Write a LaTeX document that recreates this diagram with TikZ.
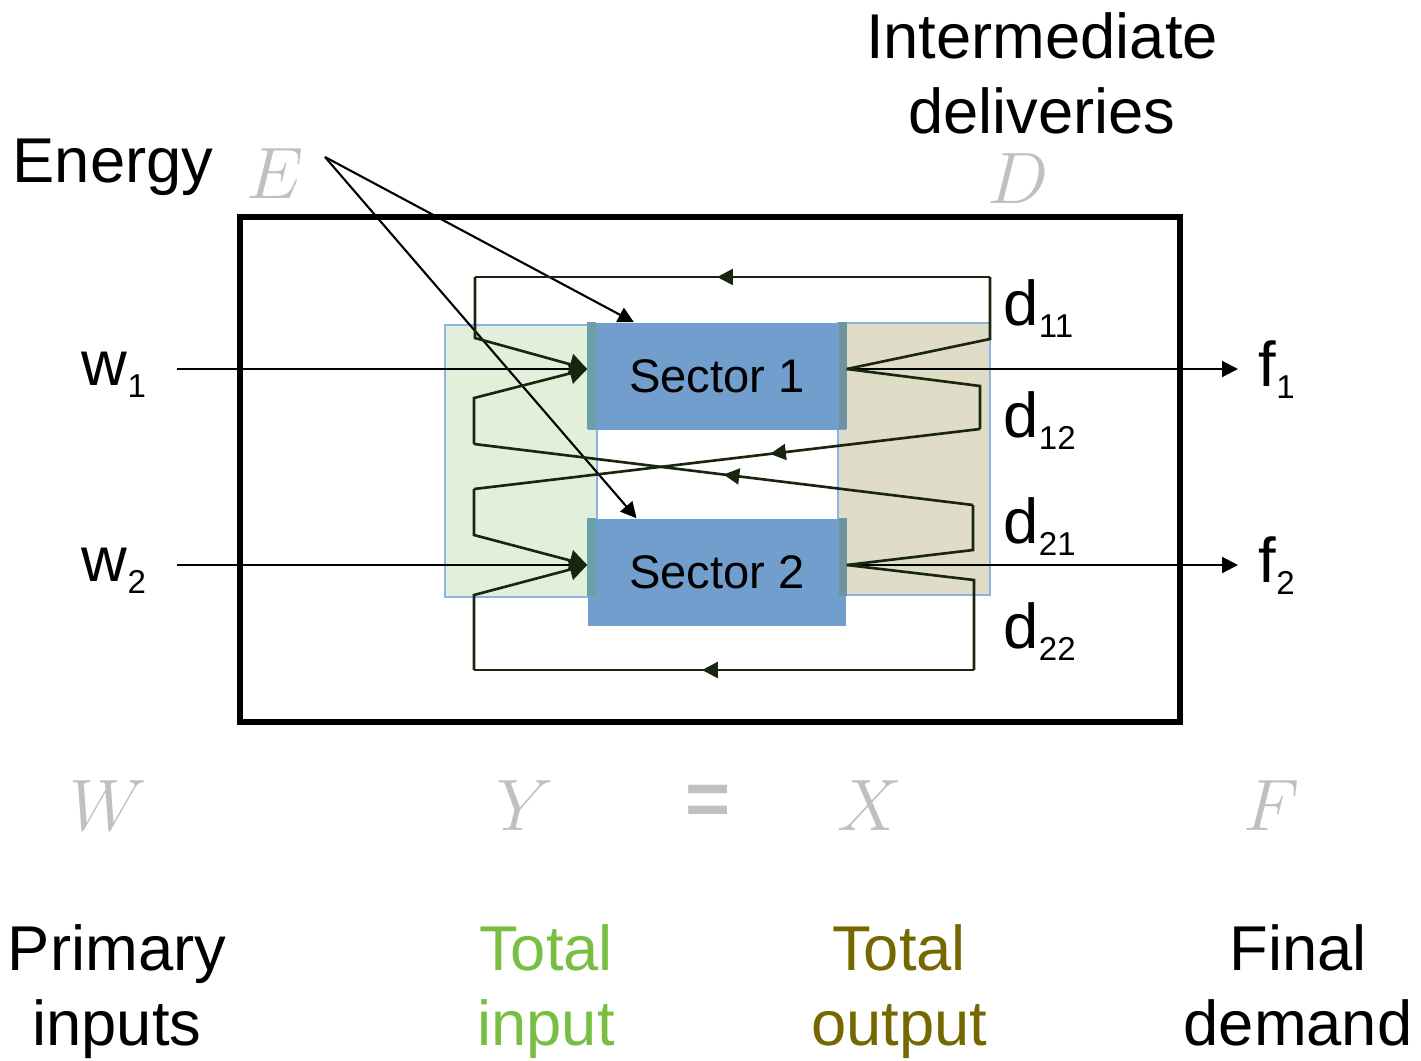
\documentclass[tikz,border=0pt]{standalone}
\usepackage{fontspec}
\setmainfont{Liberation Sans}
\usetikzlibrary{arrows.meta,decorations.markings,calc}

\definecolor{secblue}{RGB}{114,158,206}
\definecolor{ingreen}{RGB}{226,239,218}
\definecolor{outtan}{RGB}{223,221,200}
\definecolor{boxline}{RGB}{141,179,226}
\definecolor{lettergray}{RGB}{192,192,192}
\definecolor{totalin}{RGB}{119,190,67}
\definecolor{totalout}{RGB}{117,104,0}
\definecolor{loopcol}{RGB}{25,38,15}
\definecolor{inmix}{RGB}{106,160,168}
\definecolor{outmix}{RGB}{110,146,160}

\newcommand{\bigfont}{\fontsize{18}{21.3}\selectfont}
\newcommand{\lowidx}[1]{\raisebox{-0.2em}{\fontsize{9.4}{11}\selectfont #1}}

\tikzset{
  lbl/.style={font=\bigfont, inner sep=0pt},
  letter/.style={text=lettergray, font=\fontsize{21}{24}\selectfont, inner sep=0pt},
  sector/.style={fill=secblue, minimum width=2.58cm, minimum height=1.07cm, inner sep=0pt, font=\fontsize{13.4}{15}\selectfont},
  flow/.style={line width=0.6pt, -{Triangle[length=4.5pt,width=4.5pt]}},
  feed/.style={draw=loopcol, line width=0.75pt},
  feedin/.style={feed, -{Triangle[length=5pt,width=6pt]}},
  midarrow/.style={decoration={markings, mark=at position #1 with {\arrow{Triangle[length=4.5pt,width=4.5pt]}}}, postaction={decorate}},
}

\begin{document}
\begin{tikzpicture}[x=0.01cm, y=-0.01cm]
    \useasboundingbox (0,0) rectangle (1421,1060);

    % Input and output bands
    \filldraw[fill=ingreen, draw=boxline, line width=0.5pt] (445,325) rectangle (597,597);
    \filldraw[fill=outtan, draw=boxline, line width=0.5pt] (838,323) rectangle (990,595);

    % Sectors
    \node[sector] (sec1) at (717,376.5) {Sector 1};
    \node[sector] (sec2) at (717,572.5) {Sector 2};
    \fill[inmix] (sec1.north west) rectangle ++(9,107);
    \fill[inmix] (sec2.north west) rectangle ++(9,78);
    \fill[outmix] (sec1.north east) rectangle ++(-8,107);
    \fill[outmix] (sec2.north east) rectangle ++(-8,78);

    % Economy
    \draw[line width=1.7pt] (240,217) rectangle (1180,722);

    % Labels
    \node[lbl, anchor=base] (energy) at (113,182) {Energy};
    \node[lbl, anchor=base, align=center] (inter) at (1042,133) {Intermediate\\deliveries};
    \node[letter, anchor=base] (lE) at (275,198) {$E$};
    \node[letter, anchor=base] (lD) at (1018,203) {$D$};
    \node[lbl, anchor=base] (w1) at (114,385) {w\lowidx{1}};
    \node[lbl, anchor=base] (w2) at (114,581) {w\lowidx{2}};
    \node[lbl, anchor=base west] (f1) at (1258,386) {f\lowidx{1}};
    \node[lbl, anchor=base west] (f2) at (1258,582) {f\lowidx{2}};
    \node[lbl, anchor=base west] (d11) at (1003,325) {d\lowidx{11}};
    \node[lbl, anchor=base west] (d12) at (1003,437) {d\lowidx{12}};
    \node[lbl, anchor=base west] (d21) at (1003,543) {d\lowidx{21}};
    \node[lbl, anchor=base west] (d22) at (1003,648) {d\lowidx{22}};

    % Ports
    \coordinate (in1) at ([yshift=0.075cm]sec1.west);
    \coordinate (out1) at ([yshift=0.075cm]sec1.east);
    \coordinate (in2) at ([yshift=0.075cm]sec2.west);
    \coordinate (out2) at ([yshift=0.075cm]sec2.east);
    \coordinate (esrc) at (325,157);
    \coordinate (e1) at ($(sec1.north west)!0.18!(sec1.north east)$);
    \coordinate (e2) at ($(sec2.north west)!0.19!(sec2.north east)$);

    % Primary inputs and final demand
    \draw[flow, shorten <=0.3cm] (w1.east |- in1) -- (in1);
    \draw[flow, shorten <=0.3cm] (w2.east |- in2) -- (in2);
    \draw[flow, shorten >=0.2cm] (out1) -- (f1.west |- out1);
    \draw[flow, shorten >=0.2cm] (out2) -- (f2.west |- out2);

    % Energy
    \draw[flow] (esrc) -- (e1);
    \draw[flow] (esrc) -- (e2);

    % Intermediate deliveries
    \draw[feed] (out1) -- (990,339) -- (990,277);
    \draw[feed, midarrow=0.53] (990,277) -- (475,277);
    \draw[feedin] (475,277) -- (475,338) -- (in1);

    \draw[feed] (out1) -- (980,386) -- (980,429);
    \draw[feed, midarrow=0.415] (980,429) -- (474,489);
    \draw[feedin] (474,489) -- (474,535) -- (in2);

    \draw[feed] (out2) -- (973,550) -- (973,505);
    \draw[feed, midarrow=0.5] (973,505) -- (474,444);
    \draw[feedin] (474,444) -- (474,398) -- (in1);

    \draw[feed] (out2) -- (974,580) -- (974,670);
    \draw[feed, midarrow=0.544] (974,670) -- (474,670);
    \draw[feedin] (474,670) -- (474,595) -- (in2);

    % Identity
    \node[letter, anchor=base] (lW) at (108,830) {$W$};
    \node[letter, anchor=base] (lY) at (525,830) {$Y$};
    \node[letter, font=\fontsize{22}{24}\selectfont\bfseries, text=lettergray] (eq) at (708,805) {=};
    \node[letter, anchor=base] (lX) at (870,830) {$X$};
    \node[letter, anchor=base] (lF) at (1272,830) {$F$};

    \node[lbl, anchor=base, align=center] (prim) at (117,1045) {Primary\\inputs};
    \node[lbl, anchor=base, align=center, text=totalin] (tin) at (546,1045) {Total\\input};
    \node[lbl, anchor=base, align=center, text=totalout] (tout) at (899,1045) {Total\\output};
    \node[lbl, anchor=base, align=center] (fin) at (1298,1045) {Final\\demand};
\end{tikzpicture}
\end{document}
